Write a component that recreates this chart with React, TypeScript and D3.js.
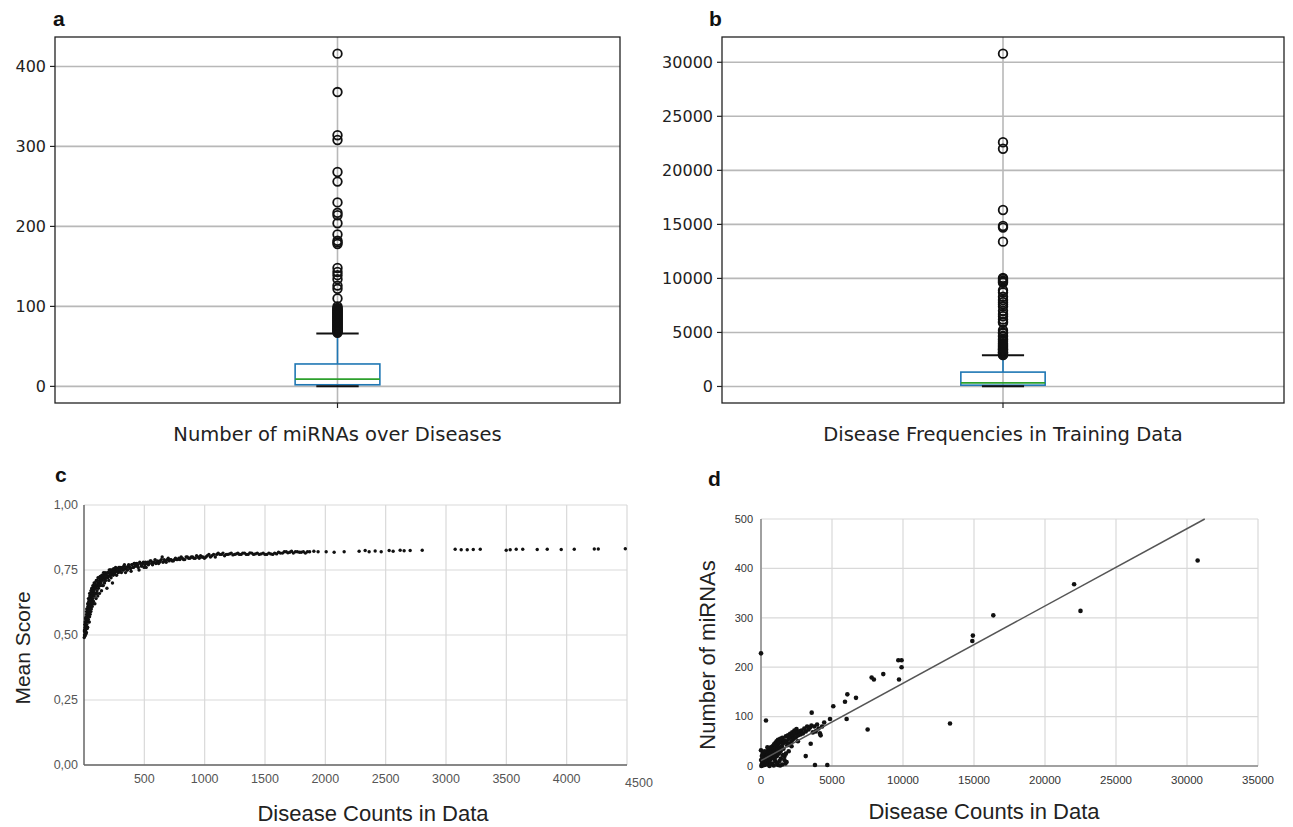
import React from 'react';
import * as d3 from 'd3';

// ---- panel a: number of miRNAs per disease (box plot) ----
const aTicks = [0, 100, 200, 300, 400];
// [lower whisker, q1, median, q3, upper whisker]
const aBox = [0, 2, 9, 28, 66];
const aOutliers = [
  416, 368, 314, 308, 268, 256, 230, 217, 214, 204, 190, 182, 180, 178,
  148, 143, 139, 134, 126, 122, 110, 100, 98, 97, 96, 95, 94, 93, 92, 91,
  90, 89, 88, 87, 86, 85, 84, 83, 82, 81, 80, 79, 78, 77, 76, 75, 74, 73,
  72, 71, 70, 69, 68, 67,
];

// ---- panel b: disease frequencies in training data (box plot) ----
const bTicks = [0, 5000, 10000, 15000, 20000, 25000, 30000];
const bBox = [10, 120, 330, 1330, 2880];
const bOutliers = [
  30800, 22600, 22000, 16330, 14850, 14700, 13400, 10050, 9950, 9800, 9700,
  9600, 8900, 8700, 8300, 8000, 7800, 7600, 7400, 7000, 6700, 6500, 6200,
  6000, 5900, 5200, 5000, 4900, 4700, 4600, 4400, 4300, 4150, 4000, 3900,
  3800, 3700, 3600, 3500, 3450, 3400, 3300, 3200, 3150, 3100, 3000, 2950, 2900,
];

// ---- panel c: mean score vs disease counts ----
const cXTicks = [500, 1000, 1500, 2000, 2500, 3000, 3500, 4000, 4500];
const cYTicks = [0, 0.25, 0.5, 0.75, 1];
const cPoints: [number, number][] = [
  [2, 0.49], [3, 0.515], [4, 0.5], [5, 0.52], [6, 0.495], [7, 0.54], [8, 0.51], [9, 0.53],
  [10, 0.55], [11, 0.5], [12, 0.54], [13, 0.565], [14, 0.52], [15, 0.56], [16, 0.53],
  [17, 0.505], [18, 0.57], [19, 0.55], [20, 0.51], [21, 0.59], [22, 0.58], [23, 0.54],
  [24, 0.6], [25, 0.56], [26, 0.6], [27, 0.525], [28, 0.57], [29, 0.59], [30, 0.53],
  [31, 0.62], [32, 0.61], [33, 0.58], [34, 0.55], [35, 0.62], [36, 0.56], [37, 0.64],
  [38, 0.6], [39, 0.58], [40, 0.63], [41, 0.59], [42, 0.61], [43, 0.64], [44, 0.55],
  [45, 0.61], [46, 0.57], [47, 0.66], [48, 0.65], [49, 0.6], [50, 0.62], [51, 0.58],
  [52, 0.6], [53, 0.645], [54, 0.66], [55, 0.63], [56, 0.61], [57, 0.59], [58, 0.67],
  [60, 0.64], [61, 0.6], [62, 0.67], [63, 0.65], [64, 0.62], [65, 0.68], [66, 0.65],
  [67, 0.63], [68, 0.61], [69, 0.66], [70, 0.68], [71, 0.655], [72, 0.64], [74, 0.69],
  [75, 0.66], [76, 0.62], [78, 0.63], [79, 0.67], [80, 0.69], [81, 0.65], [82, 0.67],
  [84, 0.7], [85, 0.65], [86, 0.68], [88, 0.68], [89, 0.66], [90, 0.62], [92, 0.7],
  [93, 0.7], [95, 0.66], [96, 0.69], [98, 0.68], [100, 0.64], [102, 0.71], [104, 0.69],
  [106, 0.66], [108, 0.67], [110, 0.71], [112, 0.69], [114, 0.65], [116, 0.72],
  [118, 0.7], [120, 0.68], [122, 0.7], [125, 0.72], [127, 0.69], [128, 0.66],
  [130, 0.71], [132, 0.7], [134, 0.725], [136, 0.69], [138, 0.71], [140, 0.72],
  [142, 0.7], [145, 0.67], [148, 0.73], [150, 0.71], [152, 0.69], [155, 0.73],
  [158, 0.72], [160, 0.69], [162, 0.74], [165, 0.72], [168, 0.71], [170, 0.7],
  [172, 0.73], [175, 0.74], [178, 0.72], [180, 0.71], [183, 0.735], [186, 0.73],
  [190, 0.68], [193, 0.74], [196, 0.72], [200, 0.74], [203, 0.725], [206, 0.71],
  [209, 0.75], [212, 0.73], [215, 0.74], [218, 0.75], [221, 0.73], [224, 0.72],
  [227, 0.75], [230, 0.74], [233, 0.745], [236, 0.7], [239, 0.74], [242, 0.73],
  [245, 0.755], [248, 0.75], [252, 0.735], [255, 0.74], [258, 0.75], [262, 0.76],
  [266, 0.745], [270, 0.73], [274, 0.755], [278, 0.75], [282, 0.74], [285, 0.74],
  [289, 0.76], [292, 0.76], [296, 0.745], [300, 0.75], [305, 0.76], [310, 0.74],
  [314, 0.755], [318, 0.76], [322, 0.75], [326, 0.75], [330, 0.765], [335, 0.77],
  [340, 0.755], [344, 0.74], [348, 0.76], [352, 0.76], [356, 0.75], [360, 0.75],
  [365, 0.765], [370, 0.77], [375, 0.76], [380, 0.76], [385, 0.755], [390, 0.745],
  [395, 0.77], [400, 0.77], [405, 0.76], [410, 0.76], [415, 0.775], [420, 0.775],
  [426, 0.765], [432, 0.765], [438, 0.775], [445, 0.77], [450, 0.76], [456, 0.75],
  [462, 0.78], [468, 0.775], [474, 0.765], [480, 0.765], [486, 0.775], [492, 0.78],
  [498, 0.76], [505, 0.77], [510, 0.78], [515, 0.76], [521, 0.775], [528, 0.78],
  [534, 0.77], [540, 0.775], [548, 0.785], [555, 0.785], [562, 0.775], [568, 0.77],
  [575, 0.78], [582, 0.78], [589, 0.79], [596, 0.775], [603, 0.78], [610, 0.785],
  [618, 0.775], [625, 0.78], [632, 0.785], [640, 0.79], [648, 0.8], [655, 0.78],
  [664, 0.79], [672, 0.785], [681, 0.78], [690, 0.79], [698, 0.795], [705, 0.785],
  [714, 0.79], [722, 0.79], [731, 0.785], [740, 0.785], [750, 0.79], [758, 0.795],
  [767, 0.79], [776, 0.79], [786, 0.795], [795, 0.79], [805, 0.8], [815, 0.795],
  [825, 0.79], [835, 0.79], [846, 0.8], [856, 0.8], [867, 0.795], [878, 0.795],
  [889, 0.8], [900, 0.8], [911, 0.795], [922, 0.795], [933, 0.805], [945, 0.8],
  [955, 0.795], [966, 0.805], [976, 0.8], [985, 0.8], [998, 0.795], [1010, 0.8],
  [1022, 0.805], [1035, 0.81], [1048, 0.8], [1060, 0.805], [1074, 0.81], [1088, 0.8],
  [1100, 0.81], [1112, 0.815], [1126, 0.81], [1140, 0.81], [1152, 0.815], [1165, 0.805],
  [1178, 0.81], [1192, 0.81], [1206, 0.812], [1220, 0.815], [1234, 0.808], [1248, 0.81],
  [1262, 0.812], [1275, 0.815], [1288, 0.81], [1302, 0.81], [1316, 0.815], [1330, 0.815],
  [1345, 0.81], [1360, 0.81], [1375, 0.816], [1390, 0.815], [1405, 0.81], [1420, 0.812],
  [1436, 0.815], [1452, 0.81], [1468, 0.812], [1485, 0.815], [1500, 0.81], [1515, 0.81],
  [1532, 0.815], [1548, 0.812], [1564, 0.81], [1580, 0.815], [1596, 0.812], [1612, 0.818],
  [1628, 0.815], [1645, 0.815], [1660, 0.82], [1676, 0.82], [1690, 0.816], [1705, 0.818],
  [1720, 0.822], [1735, 0.815], [1752, 0.82], [1768, 0.82], [1785, 0.818], [1800, 0.818],
  [1818, 0.82], [1835, 0.815], [1852, 0.82], [1870, 0.82], [1905, 0.822], [1940, 0.82],
  [2007, 0.82], [2073, 0.818], [2156, 0.82], [2280, 0.822], [2330, 0.825], [2363, 0.82],
  [2413, 0.823], [2463, 0.82], [2529, 0.825], [2562, 0.822], [2620, 0.826], [2653, 0.824],
  [2703, 0.825], [2803, 0.826], [3076, 0.83], [3126, 0.828], [3176, 0.828], [3226, 0.829],
  [3284, 0.83], [3499, 0.826], [3532, 0.828], [3582, 0.83], [3636, 0.83], [3756, 0.829],
  [3839, 0.83], [3955, 0.829], [4063, 0.83], [4229, 0.831], [4262, 0.831], [4486, 0.832],
];

// ---- panel d: number of miRNAs vs disease counts ----
const dXTicks = [0, 5000, 10000, 15000, 20000, 25000, 30000, 35000];
const dYTicks = [0, 100, 200, 300, 400, 500];
const dPoints: [number, number][] = [
  [0, 228], [350, 92], [0, 32], [3570, 108], [3500, 45], [3150, 20], [3800, 2], [4670, 2],
  [4860, 95], [5090, 121], [5915, 130], [6080, 145], [6030, 95], [6690, 138], [7510, 74],
  [7790, 179], [7950, 175], [8610, 186], [9670, 214], [9900, 214], [9900, 200], [9720, 175],
  [13310, 86], [14880, 253], [14920, 264], [16360, 305], [22050, 368], [22500, 314],
  [30750, 416],
  [30, 0], [50, 2], [80, 5], [100, 1], [120, 8], [150, 3], [170, 12], [200, 6], [220, 15],
  [250, 2], [260, 10], [280, 18], [300, 7], [320, 22], [340, 4], [360, 14], [380, 26],
  [400, 9], [420, 19], [440, 30], [460, 12], [480, 24], [500, 3], [520, 16], [540, 33],
  [560, 20], [580, 8], [600, 28], [620, 35], [650, 13], [680, 25], [700, 38], [720, 18],
  [750, 30], [780, 5], [800, 22], [820, 40], [850, 27], [880, 15], [900, 35], [920, 44],
  [950, 24], [980, 31], [1000, 10], [1020, 47], [1050, 38], [1080, 28], [1100, 50],
  [1120, 20], [1150, 42], [1180, 33], [1200, 53], [1230, 45], [1260, 25], [1290, 48],
  [1320, 37], [1350, 55], [1380, 30], [1400, 15], [1430, 50], [1460, 40], [1500, 57],
  [1540, 45], [1580, 35], [1620, 52], [1660, 20], [1700, 48], [1720, 5], [1750, 60],
  [1800, 50], [1850, 42], [1900, 62], [1950, 55], [2000, 45], [2050, 65], [2100, 58],
  [2150, 50], [2200, 68], [2250, 62], [2300, 55], [2350, 72], [2400, 66], [2450, 58],
  [2500, 75], [2560, 68], [2620, 62], [2700, 70], [2780, 64], [2850, 72], [2950, 66],
  [3050, 76], [3150, 70], [3250, 80], [3350, 74], [3450, 78], [3550, 82], [3650, 68],
  [3750, 80], [3850, 70], [3950, 84], [4050, 76], [4150, 66], [4200, 62], [4300, 80],
  [4450, 88], [1200, 2], [1500, 3], [1800, 8], [900, 1], [600, 0], [10, 12], [60, 20],
  [130, 25], [1650, 12], [1750, 25], [700, 4], [1100, 6], [1350, 1], [250, 30], [450, 38],
  [1000, 18], [1300, 10], [2150, 40], [2600, 50], [1550, 22], [1950, 30],
];
// linear trend line in panel d
const dTrendSlope = 0.01565;
const dTrendIntercept = 11;
const dTrendRange = [0, 31250];

const MPL_FONT = '"DejaVu Sans", sans-serif';
const XL_FONT = '"Liberation Sans", Arial, sans-serif';

function BoxPanel({ left, right, top, bottom, ticks, box, outliers, label, letter, letterX }: any) {
  const all = [box[0], box[4], ...outliers];
  const lo = d3.min(all) as number;
  const hi = d3.max(all) as number;
  const pad = (hi - lo) * 0.05;
  const y = d3.scaleLinear().domain([lo - pad, hi + pad]).range([bottom, top]);
  const x = d3.scaleLinear().domain([0.5, 1.5]).range([left, right]);
  const cx = x(1);
  const half = x(1.075) - cx;
  const capHalf = x(1.0375) - cx;
  const blue = '#1f77b4';
  return (
    <g>
      <text x={letterX} y={26} fontFamily={XL_FONT} fontWeight="bold" fontSize={21} fill="#111">
        {letter}
      </text>
      {ticks.map((t: number) => (
        <line key={'g' + t} x1={left} x2={right} y1={y(t)} y2={y(t)} stroke="#b8b8b8" strokeWidth={1.6} />
      ))}
      <line x1={cx} x2={cx} y1={top} y2={bottom} stroke="#b8b8b8" strokeWidth={1.6} />
      <rect x={cx - half} y={y(box[3])} width={2 * half} height={y(box[1]) - y(box[3])}
        fill="none" stroke={blue} strokeWidth={1.6} />
      <line x1={cx} x2={cx} y1={y(box[3])} y2={y(box[4])} stroke={blue} strokeWidth={1.6} />
      <line x1={cx} x2={cx} y1={y(box[1])} y2={y(box[0])} stroke={blue} strokeWidth={1.6} />
      <line x1={cx - capHalf} x2={cx + capHalf} y1={y(box[4])} y2={y(box[4])} stroke="#111" strokeWidth={2} />
      <line x1={cx - capHalf} x2={cx + capHalf} y1={y(box[0])} y2={y(box[0])} stroke="#111" strokeWidth={2} />
      <line x1={cx - half} x2={cx + half} y1={y(box[2])} y2={y(box[2])} stroke="#2ca02c" strokeWidth={1.6} />
      {outliers.map((v: number, i: number) => (
        <circle key={i} cx={cx} cy={y(v)} r={4.3} fill="none" stroke="#111" strokeWidth={1.8} />
      ))}
      <rect x={left} y={top} width={right - left} height={bottom - top} fill="none" stroke="#222" strokeWidth={1.3} />
      {ticks.map((t: number) => (
        <g key={'t' + t}>
          <line x1={left - 5} x2={left} y1={y(t)} y2={y(t)} stroke="#222" strokeWidth={1.2} />
          <text x={left - 9} y={y(t)} dy="0.36em" textAnchor="end" fontFamily={MPL_FONT} fontSize={16} fill="#222">
            {t}
          </text>
        </g>
      ))}
      <line x1={cx} x2={cx} y1={bottom} y2={bottom + 5} stroke="#222" strokeWidth={1.2} />
      <text x={cx} y={441} textAnchor="middle" fontFamily={MPL_FONT} fontSize={19.5} fill="#222">
        {label}
      </text>
    </g>
  );
}

function PanelC() {
  const left = 84, right = 627, top = 505, bottom = 765;
  const x = d3.scaleLinear().domain([0, 4500]).range([left, right]);
  const y = d3.scaleLinear().domain([0, 1]).range([bottom, top]);
  const fmt = (v: number) => d3.format('.2f')(v).replace('.', ',');
  return (
    <g fontFamily={XL_FONT}>
      <text x={55} y={482} fontWeight="bold" fontSize={21} fill="#111">c</text>
      {cYTicks.map((t) => (
        <line key={'h' + t} x1={left} x2={right} y1={y(t)} y2={y(t)} stroke="#d9d9d9" strokeWidth={1.2} />
      ))}
      {cXTicks.map((t) => (
        <line key={'v' + t} x1={x(t)} x2={x(t)} y1={top} y2={bottom} stroke="#d9d9d9" strokeWidth={1.2} />
      ))}
      <line x1={left} x2={left} y1={top} y2={bottom} stroke="#666" strokeWidth={1.5} />
      <line x1={left} x2={right} y1={bottom} y2={bottom} stroke="#666" strokeWidth={1.5} />
      {cPoints.map(([cx, cy], i) => (
        <circle key={i} cx={x(cx)} cy={y(cy)} r={1.7} fill="#111" />
      ))}
      {cYTicks.map((t) => (
        <text key={'yl' + t} x={78} y={y(t)} dy="0.35em" textAnchor="end" fontSize={12.5} fill="#555">
          {fmt(t)}
        </text>
      ))}
      {cXTicks.map((t, i) => {
        const last = i === cXTicks.length - 1;
        return (
          <text key={'xl' + t} x={x(t) + (last ? 12 : 0)} y={783 + (last ? 4 : 0)} textAnchor="middle"
            fontSize={12.5} fill="#555">
            {t}
          </text>
        );
      })}
      <text transform="translate(30,648) rotate(-90)" textAnchor="middle" fontSize={21} fill="#222">
        Mean Score
      </text>
      <text x={373} y={821} textAnchor="middle" fontSize={22} fill="#222">Disease Counts in Data</text>
    </g>
  );
}

function PanelD() {
  const left = 761, right = 1258, top = 519, bottom = 766;
  const x = d3.scaleLinear().domain([0, 35000]).range([left, right]);
  const y = d3.scaleLinear().domain([0, 500]).range([bottom, top]);
  const trend = d3.line<number>()
    .x((d) => x(d))
    .y((d) => y(dTrendIntercept + dTrendSlope * d));
  return (
    <g fontFamily={XL_FONT}>
      <text x={708} y={486} fontWeight="bold" fontSize={21} fill="#111">d</text>
      {dYTicks.map((t) => (
        <line key={'h' + t} x1={left} x2={right} y1={y(t)} y2={y(t)} stroke="#d9d9d9" strokeWidth={1.2} />
      ))}
      {dXTicks.map((t) => (
        <line key={'v' + t} x1={x(t)} x2={x(t)} y1={top} y2={bottom} stroke="#d9d9d9" strokeWidth={1.2} />
      ))}
      <line x1={left} x2={left} y1={top} y2={bottom} stroke="#888" strokeWidth={1.5} />
      <line x1={left} x2={right} y1={bottom} y2={bottom} stroke="#888" strokeWidth={1.5} />
      {dPoints.map(([px, py], i) => (
        <circle key={i} cx={x(px)} cy={y(py)} r={2.3} fill="#111" />
      ))}
      <path d={trend(dTrendRange) || ''} fill="none" stroke="#555" strokeWidth={1.5} />
      {dYTicks.map((t) => (
        <text key={'yl' + t} x={753} y={y(t)} dy="0.35em" textAnchor="end" fontSize={11} fill="#333">
          {t}
        </text>
      ))}
      {dXTicks.map((t) => (
        <text key={'xl' + t} x={x(t)} y={784} textAnchor="middle" fontSize={11.5} fill="#333">
          {t}
        </text>
      ))}
      <text transform="translate(715,655) rotate(-90)" textAnchor="middle" fontSize={22} fill="#222">
        Number of miRNAs
      </text>
      <text x={984} y={819} textAnchor="middle" fontSize={22} fill="#222">Disease Counts in Data</text>
    </g>
  );
}

export default function App() {
  return (
    <svg width={1293} height={827} style={{ position: 'absolute', left: 0, top: 0, background: '#fff' }}>
      <rect width={1293} height={827} fill="#fff" />
      <BoxPanel left={55} right={620} top={37} bottom={403} ticks={aTicks} box={aBox}
        outliers={aOutliers} label="Number of miRNAs over Diseases" letter="a" letterX={53} />
      <BoxPanel left={722} right={1284} top={37} bottom={403} ticks={bTicks} box={bBox}
        outliers={bOutliers} label="Disease Frequencies in Training Data" letter="b" letterX={709} />
      <PanelC />
      <PanelD />
    </svg>
  );
}
